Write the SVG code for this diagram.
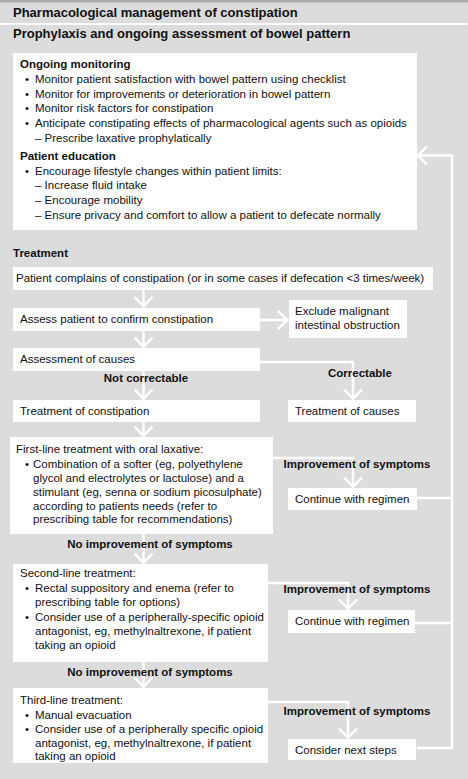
<svg xmlns="http://www.w3.org/2000/svg" width="468" height="779" viewBox="0 0 468 779">
<style>
text{font-family:"Liberation Sans",Arial,Helvetica,sans-serif;fill:#111;font-size:11.5px}
.h{font-size:13px;font-weight:bold}
.b{font-weight:bold}
.lb{font-weight:bold;text-anchor:middle}
.box{fill:#fff}
.con{fill:none;stroke:#fff;stroke-width:2.5}
</style>
<defs>
<marker id="ah" markerUnits="userSpaceOnUse" markerWidth="24" markerHeight="24" viewBox="-12 -12 24 24" refX="0" refY="0" orient="auto" overflow="visible">
<path d="M-10,-9 L-0.8,0 L-10,9" fill="none" stroke="#fff" stroke-width="2.5"/>
</marker>
</defs>
<rect x="0" y="0" width="468" height="779" fill="#dcdcdc"/>
<rect x="0" y="0" width="468" height="2.5" fill="#a9a9a9"/>
<rect x="0" y="23" width="467" height="2" fill="#fff"/>
<text class="h" x="13" y="17">Pharmacological management of constipation</text>
<text class="h" x="13" y="38">Prophylaxis and ongoing assessment of bowel pattern</text>
<text class="b" x="13" y="257">Treatment</text>

<g id="connectors">
<path class="con" d="M417,748 H452 V155.5 H417" marker-end="url(#ah)"/>
<path class="con" d="M417,498 H452"/>
<path class="con" d="M415,623 H452"/>
<path class="con" d="M143.5,290 V307" marker-end="url(#ah)"/>
<path class="con" d="M260,320 H288" marker-end="url(#ah)"/>
<path class="con" d="M143.5,331 V347.5" marker-end="url(#ah)"/>
<path class="con" d="M260,362 H353 V399.5" marker-end="url(#ah)"/>
<path class="con" d="M143.5,371 V399.5" marker-end="url(#ah)"/>
<path class="con" d="M143.5,422 V436.5" marker-end="url(#ah)"/>
<path class="con" d="M273,458 H353 V487.5" marker-end="url(#ah)"/>
<path class="con" d="M143.5,534 V563.5" marker-end="url(#ah)"/>
<path class="con" d="M268,583 H348 V609.5" marker-end="url(#ah)"/>
<path class="con" d="M143.5,662 V687.5" marker-end="url(#ah)"/>
<path class="con" d="M268,702 H348 V738.5" marker-end="url(#ah)"/>
</g>

<g id="labels">
<text class="lb" x="146" y="382">Not correctable</text>
<text class="lb" x="360" y="377">Correctable</text>
<text class="lb" x="357" y="468">Improvement of symptoms</text>
<text class="lb" x="150" y="548">No improvement of symptoms</text>
<text class="lb" x="357" y="593">Improvement of symptoms</text>
<text class="lb" x="150" y="676">No improvement of symptoms</text>
<text class="lb" x="357" y="715">Improvement of symptoms</text>
</g>

<g id="prophylaxis">
<rect class="box" x="13" y="53" width="404" height="177"/>
<text class="b" x="20" y="68">Ongoing monitoring</text>
<text x="25" y="83">•</text><text x="35" y="83">Monitor patient satisfaction with bowel pattern using checklist</text>
<text x="25" y="97.5">•</text><text x="35" y="97.5">Monitor for improvements or deterioration in bowel pattern</text>
<text x="25" y="112">•</text><text x="35" y="112">Monitor risk factors for constipation</text>
<text x="25" y="127">•</text><text x="35" y="127">Anticipate constipating effects of pharmacological agents such as opioids</text>
<text x="35" y="142">– Prescribe laxative prophylatically</text>
<text class="b" x="20" y="160">Patient education</text>
<text x="25" y="174.5">•</text><text x="35" y="174.5">Encourage lifestyle changes within patient limits:</text>
<text x="35" y="189">– Increase fluid intake</text>
<text x="35" y="204">– Encourage mobility</text>
<text x="35" y="218.5">– Ensure privacy and comfort to allow a patient to defecate normally</text>
</g>

<g id="complains">
<rect class="box" x="13" y="267" width="420" height="23"/>
<text x="16" y="282">Patient complains of constipation (or in some cases if defecation &lt;3 times/week)</text>
</g>
<g id="assess">
<rect class="box" x="13" y="308" width="247" height="23"/>
<text x="20" y="323">Assess patient to confirm constipation</text>
</g>
<g id="exclude">
<rect class="box" x="289" y="300" width="118" height="38"/>
<text x="295" y="315">Exclude malignant</text>
<text x="295" y="329">intestinal obstruction</text>
</g>
<g id="causes-assessment">
<rect class="box" x="13" y="348" width="247" height="23"/>
<text x="20" y="363">Assessment of causes</text>
</g>
<g id="treat-constipation">
<rect class="box" x="13" y="400" width="247" height="22"/>
<text x="20" y="415">Treatment of constipation</text>
</g>
<g id="treat-causes">
<rect class="box" x="288" y="400" width="128" height="22"/>
<text x="295" y="415">Treatment of causes</text>
</g>
<g id="first-line">
<rect class="box" x="10" y="437" width="263" height="97"/>
<text x="16" y="453">First-line treatment with oral laxative:</text>
<text x="25" y="468">•</text><text x="33" y="468">Combination of a softer (eg, polyethylene</text>
<text x="33" y="482">glycol and electrolytes or lactulose) and a</text>
<text x="33" y="495.5">stimulant (eg, senna or sodium picosulphate)</text>
<text x="33" y="509.5">according to patients needs (refer to</text>
<text x="33" y="523">prescribing table for recommendations)</text>
</g>
<g id="continue-1">
<rect class="box" x="288" y="488" width="129" height="22"/>
<text x="295" y="502.5">Continue with regimen</text>
</g>
<g id="second-line">
<rect class="box" x="13" y="564" width="255" height="98"/>
<text x="20" y="577">Second-line treatment:</text>
<text x="25" y="592">•</text><text x="35" y="592">Rectal suppository and enema (refer to</text>
<text x="35" y="606">prescribing table for options)</text>
<text x="25" y="621">•</text><text x="35" y="621">Consider use of a peripherally-specific opioid</text>
<text x="35" y="634.5">antagonist, eg, methylnaltrexone, if patient</text>
<text x="35" y="648.5">taking an opioid</text>
</g>
<g id="continue-2">
<rect class="box" x="288" y="610" width="127" height="23"/>
<text x="295" y="625">Continue with regimen</text>
</g>
<g id="third-line">
<rect class="box" x="13" y="688" width="255" height="75"/>
<text x="20" y="704">Third-line treatment:</text>
<text x="25" y="718.5">•</text><text x="35" y="718.5">Manual evacuation</text>
<text x="25" y="733">•</text><text x="35" y="733">Consider use of a peripherally specific opioid</text>
<text x="35" y="746.5">antagonist, eg, methylnaltrexone, if patient</text>
<text x="35" y="760">taking an opioid</text>
</g>
<g id="next-steps">
<rect class="box" x="288" y="739" width="128" height="21"/>
<text x="295" y="753.5">Consider next steps</text>
</g>
</svg>
